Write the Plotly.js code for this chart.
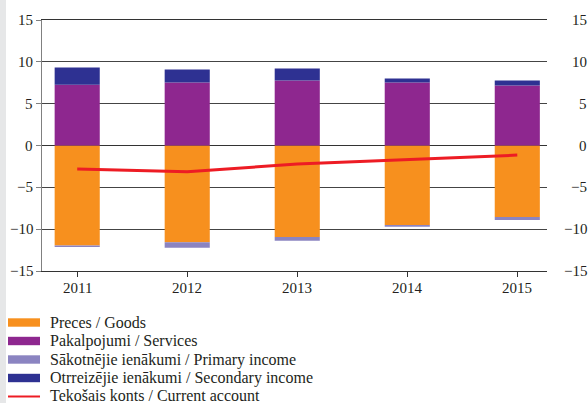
<!DOCTYPE html>
<html>
<head>
<meta charset="utf-8">
<script src="https://cdn.plot.ly/plotly-3.0.1.min.js"></script>
<style>html,body{margin:0;padding:0;background:#fff;}#chart{width:588px;height:403px;}</style>
</head>
<body>
<div id="chart"></div>
<script>
const years = ['2011', '2012', '2013', '2014', '2015'];
const goods = [-11.95, -11.55, -10.95, -9.51, -8.55];
const services = [7.27, 7.52, 7.76, 7.52, 7.16];
const primaryIncome = [-0.17, -0.68, -0.44, -0.20, -0.36];
const secondaryIncome = [2.05, 1.56, 1.44, 0.48, 0.60];
const currentAccount = [-2.80, -3.15, -2.20, -1.71, -1.15];
const tickVals = [-15, -10, -5, 0, 5, 10, 15];
const seriesNames = [
  'Preces / Goods',
  'Pakalpojumi / Services',
  'Sākotnējie ienākumi / Primary income',
  'Otrreizējie ienākumi / Secondary income',
  'Tekošais konts / Current account'
];
const seriesColors = ['#f7901e', '#8e278f', '#8b84c1', '#2e3192', '#ed1c24'];

const FONT = 'Liberation Serif';
const TXT = '#231f20';
const W = 588, H = 403, ML = 42, MR = 41, MT = 20, MB = 132;
const PW = W - ML - MR, PH = H - MT - MB;
const XR = [-0.32, 4.27];
const px = p => (p - ML) / PW;
const py = p => (H - MB - p) / PH;
const catX = i => (i - XR[0]) / (XR[1] - XR[0]);
const fmt = v => v < 0 ? '\u2212' + Math.abs(v) : String(v);

function bar(y, i) {
  return {type: 'bar', x: years, y: y, name: seriesNames[i], width: 0.41,
          marker: {color: seriesColors[i], line: {width: 0}}, hoverinfo: 'skip'};
}
const traces = [
  bar(goods, 0), bar(services, 1), bar(primaryIncome, 2), bar(secondaryIncome, 3),
  {type: 'scatter', mode: 'lines', x: years, y: currentAccount, name: seriesNames[4],
   line: {color: seriesColors[4], width: 3}, hoverinfo: 'skip'}
];

const shapes = [
  {type: 'rect', xref: 'paper', yref: 'paper', x0: px(0), x1: px(6), y0: py(H), y1: py(0),
   fillcolor: '#e6e7e8', line: {width: 0}, layer: 'below'}
];
const annotations = [];
const tickFont = {family: FONT, size: 15, color: TXT};
tickVals.forEach(v => {
  annotations.push({xref: 'paper', yref: 'y', x: px(35), y: v, xanchor: 'right', yanchor: 'middle',
    text: fmt(v), showarrow: false, font: tickFont});
  annotations.push({xref: 'paper', yref: 'y', x: px(589), y: v, xanchor: 'right', yanchor: 'middle',
    text: fmt(v), showarrow: false, font: tickFont});
});
years.forEach((yr, i) => {
  annotations.push({xref: 'paper', yref: 'paper', x: catX(i), y: py(288), xanchor: 'center', yanchor: 'middle',
    text: yr, showarrow: false, font: tickFont});
});
const rowY = [322.5, 341.0, 359.5, 378.0, 395.5];
seriesNames.forEach((n, i) => {
  if (i < 4) {
    shapes.push({type: 'rect', xref: 'paper', yref: 'paper', x0: px(8), x1: px(40),
      y0: py(rowY[i] + 4.2), y1: py(rowY[i] - 4.2), fillcolor: seriesColors[i], line: {width: 0}});
  } else {
    shapes.push({type: 'line', xref: 'paper', yref: 'paper', x0: px(8), x1: px(40),
      y0: py(rowY[i] + 1), y1: py(rowY[i] + 1), line: {color: seriesColors[i], width: 2}});
  }
  annotations.push({xref: 'paper', yref: 'paper', x: px(48), y: py(rowY[i]), xanchor: 'left', yanchor: 'middle',
    text: n, showarrow: false, font: {family: FONT, size: 16, color: TXT}});
});

const layout = {
  width: W, height: H,
  margin: {l: ML, r: MR, t: MT, b: MB, pad: 0},
  paper_bgcolor: '#fff', plot_bgcolor: '#fff',
  barmode: 'relative',
  showlegend: false,
  font: {family: FONT, size: 15, color: TXT},
  xaxis: {type: 'category', range: XR, showline: true, mirror: true, linecolor: '#333', linewidth: 1.2,
          ticks: 'outside', ticklen: 5, tickcolor: '#333', showgrid: false, zeroline: false,
          showticklabels: false, fixedrange: true},
  yaxis: {range: [-15, 15], tickvals: tickVals, showline: true, linecolor: '#808080', linewidth: 1.5,
          ticks: 'outside', ticklen: 5, tickcolor: '#808080', showgrid: true, gridcolor: '#444', gridwidth: 1,
          zeroline: true, zerolinecolor: '#333', zerolinewidth: 1.2,
          showticklabels: false, fixedrange: true},
  yaxis2: {range: [-15, 15], tickvals: tickVals, overlaying: 'y', side: 'right', showline: true,
           linecolor: '#333', linewidth: 1.2, ticks: 'outside', ticklen: 5, tickcolor: '#333',
           showticklabels: false, showgrid: false, zeroline: false, fixedrange: true},
  shapes: shapes,
  annotations: annotations
};

Plotly.newPlot('chart', traces, layout, {staticPlot: true, displayModeBar: false});
</script>
</body>
</html>
